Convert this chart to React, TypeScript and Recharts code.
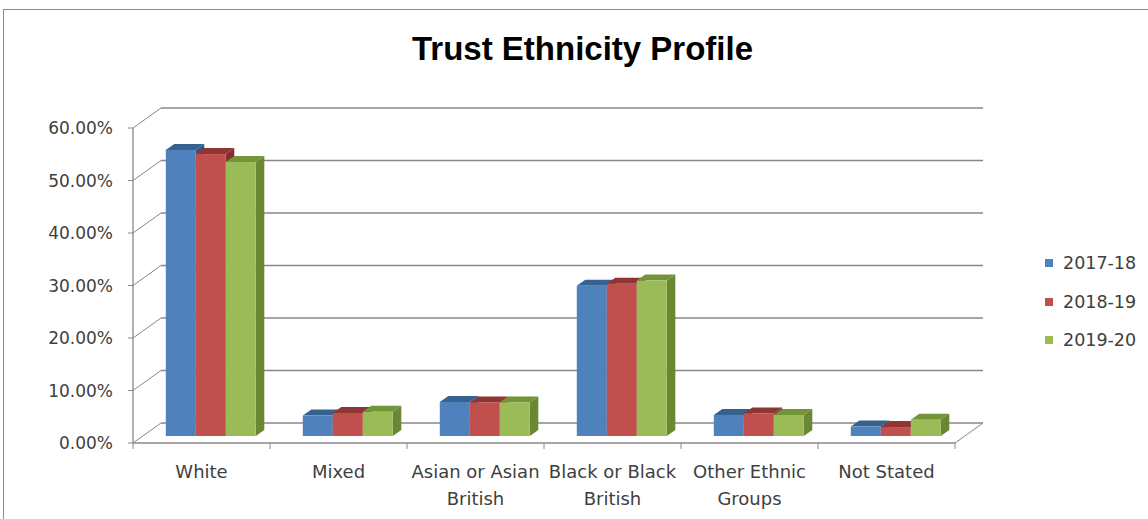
import React from "react";
import { BarChart, Bar, XAxis, YAxis, CartesianGrid } from "recharts";

const categories = [
  "White",
  "Mixed",
  "Asian or Asian British",
  "Black or Black British",
  "Other Ethnic Groups",
  "Not Stated",
];
const seriesNames = ["2017-18", "2018-19", "2019-20"];
const values2017 = [0.545, 0.039, 0.065, 0.286, 0.04, 0.018];
const values2018 = [0.537, 0.044, 0.064, 0.29, 0.043, 0.017];
const values2019 = [0.522, 0.046, 0.064, 0.296, 0.04, 0.031];
const yTicks = [0, 0.1, 0.2, 0.3, 0.4, 0.5, 0.6];

const data = categories.map((category, i) => ({
  category,
  s2017: values2017[i],
  s2018: values2018[i],
  s2019: values2019[i],
}));

// 3D look: depth of the walls, where bars sit, and bar thickness
const DX = 28;
const DY = -20;
const BX = 9.8;
const BY = -7;
const TX = 8.5;
const TY = -6;

const GRID = "#888888";
const TEXT = "#404040";
const FONT = "'DejaVu Sans', sans-serif";

const colors = [
  { front: "#4f81bd", top: "#36628f", side: "#2f5684" },
  { front: "#c0504d", top: "#8f3533", side: "#86302e" },
  { front: "#9bbb59", top: "#74943a", side: "#6a8733" },
];

const make3DBar = (c: { front: string; top: string; side: string }) => (props: any) => {
  const { x, y, width, height } = props;
  if (height == null || width == null) return <g />;
  const fx = x + BX;
  const fy = y + BY;
  const w = width;
  const h = height;
  return (
    <g>
      <polygon
        points={`${fx + w},${fy} ${fx + w + TX},${fy + TY} ${fx + w + TX},${fy + h + TY} ${fx + w},${fy + h}`}
        fill={c.side}
      />
      <polygon
        points={`${fx},${fy} ${fx + TX},${fy + TY} ${fx + w + TX},${fy + TY} ${fx + w},${fy}`}
        fill={c.top}
      />
      <rect x={fx} y={fy} width={w} height={h} fill={c.front} />
    </g>
  );
};

const WallLine = (p: any) => {
  const { x1, y1, x2, y2, index } = p;
  const isFloor = p.y != null && p.height != null && Math.abs(y1 - (p.y + p.height)) < 1;
  return (
    <g key={`wall-${index}`}>
      <line x1={x1} y1={y1} x2={x1 + DX} y2={y1 + DY} stroke={GRID} strokeWidth={1} />
      <line x1={x1 + DX} y1={y1 + DY} x2={x2 + DX} y2={y2 + DY} stroke={GRID} strokeWidth={1.3} />
      {isFloor && <line x1={x2} y1={y2} x2={x2 + DX} y2={y2 + DY} stroke={GRID} strokeWidth={1} />}
    </g>
  );
};

const wrapLabel = (label: string, maxChars: number) => {
  const words = label.split(" ");
  const lines: string[] = [];
  let cur = "";
  words.forEach((w) => {
    const next = cur ? cur + " " + w : w;
    if (next.length > maxChars && cur) {
      lines.push(cur);
      cur = w;
    } else {
      cur = next;
    }
  });
  if (cur) lines.push(cur);
  return lines;
};

const CategoryTick = (props: any) => {
  const { x, y, payload, index } = props;
  const band = (props.width || 822) / categories.length;
  const lines = wrapLabel(payload.value, 14);
  return (
    <g>
      <line x1={x - band / 2} y1={y} x2={x - band / 2} y2={y + 6} stroke={GRID} />
      {index === categories.length - 1 && (
        <line x1={x + band / 2} y1={y} x2={x + band / 2} y2={y + 6} stroke={GRID} />
      )}
      <text x={x} y={y + 35} textAnchor="middle" fill={TEXT} fontSize={18} fontFamily={FONT}>
        {lines.map((l, i) => (
          <tspan key={i} x={x} dy={i === 0 ? 0 : 27}>
            {l}
          </tspan>
        ))}
      </text>
    </g>
  );
};

const fmtPct = (v: number) => `${(v * 100).toFixed(2)}%`;

export default function App() {
  return (
    <div
      style={{
        position: "absolute",
        left: 0,
        top: 0,
        width: 1148,
        height: 519,
        overflow: "hidden",
        background: "#fff",
        fontFamily: FONT,
      }}
    >
      <div
        style={{
          position: "absolute",
          left: 3,
          top: 9,
          width: 1300,
          height: 700,
          border: "1.5px solid #8c8c8c",
        }}
      />
      <div
        style={{
          position: "absolute",
          left: 0,
          top: 32,
          width: 1165,
          textAlign: "center",
          fontFamily: "'Liberation Sans', Arial, sans-serif",
          fontWeight: "bold",
          fontSize: 33,
          lineHeight: "33px",
          color: "#000",
        }}
      >
        Trust Ethnicity Profile
      </div>
      <div style={{ position: "absolute", left: 0, top: 0 }}>
        <BarChart
          width={1148}
          height={519}
          data={data}
          margin={{ top: 128, right: 193, bottom: 0, left: 0 }}
          barCategoryGap={23}
          barGap={0}
        >
          <CartesianGrid horizontal={WallLine as any} vertical={false} />
          <XAxis
            dataKey="category"
            height={76}
            axisLine={{ stroke: GRID, strokeWidth: 1.3 }}
            tickLine={false}
            tickSize={0}
            tickMargin={0}
            interval={0}
            tick={<CategoryTick />}
          />
          <YAxis
            width={133}
            domain={[0, 0.6]}
            ticks={yTicks}
            tickFormatter={fmtPct}
            axisLine={{ stroke: GRID, strokeWidth: 1.3 }}
            tickLine={{ stroke: GRID }}
            tickSize={5}
            tickMargin={15}
            tick={{ fill: TEXT, fontSize: 17, fontFamily: FONT }}
          />
          <Bar dataKey="s2017" name={seriesNames[0]} shape={make3DBar(colors[0])} isAnimationActive={false} />
          <Bar dataKey="s2018" name={seriesNames[1]} shape={make3DBar(colors[1])} isAnimationActive={false} />
          <Bar dataKey="s2019" name={seriesNames[2]} shape={make3DBar(colors[2])} isAnimationActive={false} />
        </BarChart>
      </div>
      <div style={{ position: "absolute", left: 1045, top: 244 }}>
        {seriesNames.map((name, i) => (
          <div key={name} style={{ height: 38.5, display: "flex", alignItems: "center" }}>
            <span
              style={{
                width: 8,
                height: 8,
                background: colors[i].front,
                display: "inline-block",
                marginRight: 10,
              }}
            />
            <span style={{ fontSize: 17.5, color: TEXT, lineHeight: "20px" }}>{name}</span>
          </div>
        ))}
      </div>
    </div>
  );
}
